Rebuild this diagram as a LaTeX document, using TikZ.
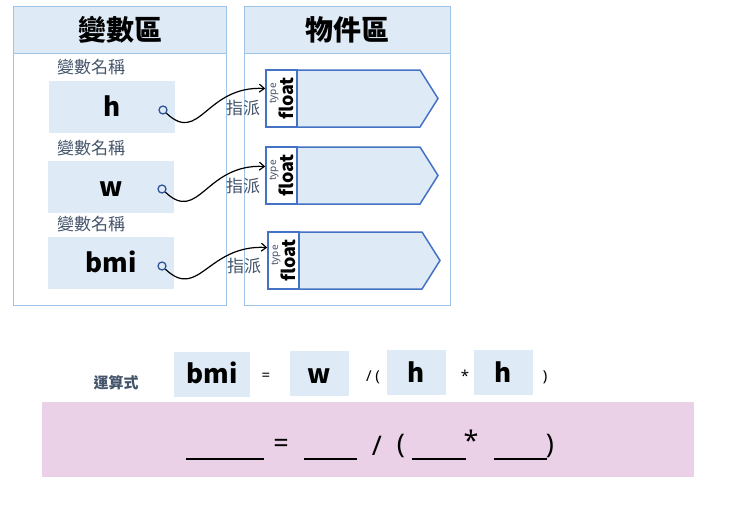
\documentclass[tikz,border=0pt]{standalone}
\usepackage{fontspec}
\setmainfont{Noto Sans CJK TC}
\newfontfamily\latin{Noto Sans}
\usetikzlibrary{calc,arrows.meta}
\definecolor{lblue}{HTML}{DEEBF7}
\definecolor{pborder}{HTML}{9DC3E6}
\definecolor{oborder}{HTML}{4472C4}
\definecolor{dblue}{HTML}{2F5597}
\definecolor{gtext}{HTML}{44546A}
\definecolor{pink}{HTML}{EBD1E8}
\newcommand{\fs}[1]{\fontsize{#1}{#1}\selectfont}
\tikzset{
  panel/.style={draw=pborder,line width=1pt},
  hdr/.style={draw=pborder,line width=1pt,fill=lblue,anchor=north west,minimum width=213,minimum height=47,inner sep=0,font=\fs{28}\bfseries},
  varname/.style={text=gtext,font=\fs{17},inner sep=0},
  varbox/.style={fill=lblue,minimum width=126,minimum height=52,inner sep=0,font=\fs{26}\bfseries,text height=19,text depth=0},
  dot/.style={circle,draw=dblue,line width=1.3pt,minimum size=8,inner sep=0},
  assign/.style={text=gtext,font=\fs{17},inner sep=0},
  typebox/.style={draw=oborder,line width=1.5pt,fill=white,minimum width=31,minimum height=57,inner sep=0},
  objbody/.style={draw=oborder,line width=1.5pt,fill=lblue},
  typelbl/.style={rotate=90,text=gtext,font=\latin\fs{10},inner sep=0},
  floatlbl/.style={rotate=90,font=\fs{18}\bfseries,inner sep=0},
  link/.style={line width=1.2pt,-{Straight Barb[length=5pt,width=8pt]}},
  fbox/.style={fill=lblue,minimum height=45,inner sep=0,font=\fs{26}\bfseries,text height=19,text depth=0},
  op/.style={font=\latin\fs{15},inner sep=0},
  bigop/.style={font=\latin\fs{27},inner sep=0},
  blank/.style={line width=1.5pt}
}
\begin{document}
\begin{tikzpicture}[x=1pt,y=-1pt]
\useasboundingbox (0,0) rectangle (741,522);
% panels
\draw[panel] (13,6) rectangle (226,305);
\node[hdr] (vh) at (13,6) {變數區};
\draw[panel] (244,6) rectangle (450,305);
\node[hdr,minimum width=206] (oh) at (244,6) {物件區};
% variable names
\node[varname] (n1) at (91,67) {變數名稱};
\node[varname] (n2) at (91,148) {變數名稱};
\node[varname] (n3) at (91,224) {變數名稱};
\node[varbox] (vh1) at (112,107) {h};
\node[varbox] (vw1) at (111,187) {w};
\node[varbox] (vb1) at (111,263) {bmi};
\node[dot] (c1) at (163,110) {};
\node[dot] (c2) at (162,189) {};
\node[dot] (c3) at (162,266) {};
% objects
\draw[objbody] (297,70) -- (420,70) -- (438,98.5) -- (420,127) -- (297,127) -- cycle;
\node[typebox] (t1) at (281.5,98.5) {};
\draw[objbody] (297,147) -- (420,147) -- (438,175.5) -- (420,204) -- (297,204) -- cycle;
\node[typebox] (t2) at (281.5,175.5) {};
\draw[objbody] (299,232) -- (422,232) -- (440,260.5) -- (422,289) -- (299,289) -- cycle;
\node[typebox] (t3) at (283.5,260.5) {};
\foreach \t in {t1,t2,t3}{
  \node[typelbl] at ($(\t.center)+(-7.5,-5)$) {type};
  \node[floatlbl] at ($(\t.center)+(5,0)$) {float};
}
% assign labels
\node[assign] (a1) at (243,108) {指派};
\node[assign] (a2) at (243,186) {指派};
\node[assign] (a3) at (244,266) {指派};
% links
\coordinate (e1) at ($(t1.west)+(0,-10)$);
\coordinate (e2) at ($(t2.west)+(0,-9)$);
\coordinate (e3) at ($(t3.west)+(0,-13)$);
\draw[link] (c1) .. controls ($(c1)+(37,35)$) and ($(e1)+(-60,-3)$) .. (e1);
\draw[link] (c2) .. controls ($(c2)+(37,35)$) and ($(e2)+(-60,-3)$) .. (e2);
\draw[link] (c3) .. controls ($(c3)+(37,35)$) and ($(e3)+(-60,-3)$) .. (e3);
% formula
\node[text=gtext,font=\fs{15}\bfseries,inner sep=0] (expr) at (116,383) {運算式};
\node[fbox,minimum width=76] (f1) at (212,374) {bmi};
\node[op] (o1) at (266,377) {=};
\node[fbox,minimum width=59] (f2) at (319.5,373.5) {w};
\node[op] (o2) at (373,377) {/ (};
\node[fbox,minimum width=59] (f3) at (416.5,372.5) {h};
\node[op] (o3) at (465,376) {*};
\node[fbox,minimum width=59] (f4) at (503.5,372.5) {h};
\node[op] (o4) at (545,377) {)};
% answer area
\fill[pink] (42,402) rectangle (694,477);
\coordinate (b1a) at (186,459); \coordinate (b1b) at (264,459);
\coordinate (b2a) at (304,459); \coordinate (b2b) at (357,459);
\coordinate (b3a) at (412,459); \coordinate (b3b) at (466,459);
\coordinate (b4a) at (494,459); \coordinate (b4b) at (547,459);
\draw[blank] (b1a) -- (b1b);
\draw[blank] (b2a) -- (b2b);
\draw[blank] (b3a) -- (b3b);
\draw[blank] (b4a) -- (b4b);
\node[bigop] (q1) at (281,446) {=};
\node[bigop] (q2) at (377,446) {/};
\node[bigop] (q3) at (401,446) {(};
\node[bigop] (q4) at (471,440) {*};
\node[bigop] (q5) at (550,446) {)};
\end{tikzpicture}
\end{document}
